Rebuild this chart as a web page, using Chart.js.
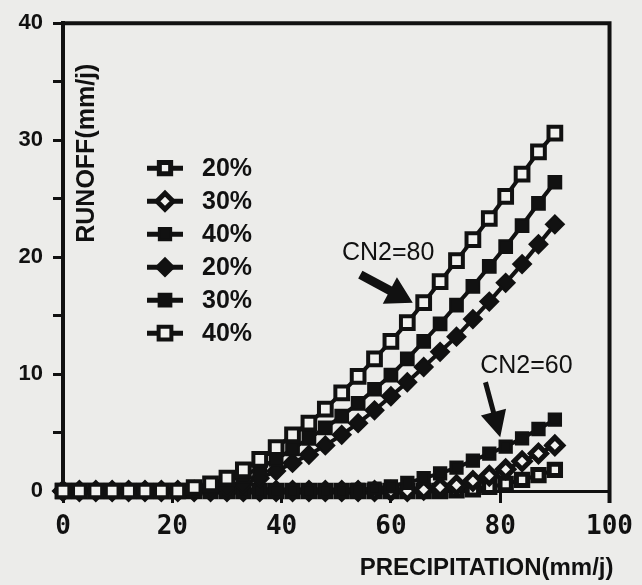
<!DOCTYPE html>
<html>
<head>
<meta charset="utf-8">
<script src="https://cdn.jsdelivr.net/npm/chart.js@4.4.1/dist/chart.umd.min.js"></script>
<style>
    html, body { margin: 0; padding: 0; background: #ececea; }
    canvas { display: block; }
</style>
</head>
<body>
<canvas id="runoff_chart" width="642" height="585"></canvas>
<script>
// precipitation (mm/j) at each plotted point
const precipitation = [0, 3, 6, 9, 12, 15, 18, 21, 24, 27, 30, 33, 36, 39, 42, 45, 48, 51, 54, 57, 60, 63, 66, 69, 72, 75, 78, 81, 84, 87, 90]

// runoff (mm/j), CN2=60
const cn60_20 = [0, 0, 0, 0, 0, 0, 0, 0, 0, 0, 0, 0, 0, 0, 0, 0, 0, 0, 0, 0, 0, 0, 0, 0, 0.05, 0.15, 0.35, 0.6, 0.95, 1.35, 1.8]
const cn60_30 = [0, 0, 0, 0, 0, 0, 0, 0, 0, 0, 0, 0, 0, 0, 0, 0, 0, 0, 0, 0, 0, 0, 0.1, 0.3, 0.5, 0.85, 1.3, 1.85, 2.55, 3.2, 3.9]
const cn60_40 = [0, 0, 0, 0, 0, 0, 0, 0, 0, 0, 0, 0, 0, 0, 0, 0, 0, 0, 0.1, 0.2, 0.4, 0.7, 1.1, 1.5, 2.0, 2.6, 3.2, 3.8, 4.5, 5.3, 6.1]

// runoff (mm/j), CN2=80
const cn80_20 = [0, 0, 0, 0, 0, 0, 0, 0, 0, 0.1, 0.3, 0.6, 1.1, 1.7, 2.4, 3.1, 3.9, 4.8, 5.8, 6.9, 8.1, 9.3, 10.6, 11.9, 13.2, 14.7, 16.2, 17.8, 19.4, 21.1, 22.8]
const cn80_30 = [0, 0, 0, 0, 0, 0, 0, 0, 0.1, 0.4, 0.8, 1.3, 2.0, 2.7, 3.6, 4.5, 5.4, 6.4, 7.5, 8.7, 9.9, 11.3, 12.8, 14.3, 15.9, 17.5, 19.2, 20.9, 22.7, 24.6, 26.4]
const cn80_40 = [0, 0, 0, 0, 0, 0, 0, 0, 0.3, 0.6, 1.1, 1.8, 2.7, 3.7, 4.8, 5.8, 7.0, 8.4, 9.8, 11.3, 12.8, 14.4, 16.1, 17.9, 19.7, 21.5, 23.3, 25.2, 27.1, 29.0, 30.6]

const series_labels = ["20%", "30%", "40%", "20%", "30%", "40%"]

const INK = "#111111"
const PAPER = "#f1f1ef"
const BACKGROUND = "#ececea"

function toPoints(values) {
    return values.map((v, i) => ({ "x": precipitation[i], "y": v }))
}

function makeDataset(label, values, point_style, radius, fill, border, order) {
    return {
        "label": label,
        "data": toPoints(values),
        "borderColor": INK,
        "borderWidth": 4,
        "pointStyle": point_style,
        "pointRadius": radius,
        "pointBackgroundColor": fill,
        "pointBorderColor": INK,
        "pointBorderWidth": border,
        "tension": 0,
        "clip": false,
        "order": order
    }
}

let datasets = [
    makeDataset(series_labels[0], cn60_20, "rect", 8, PAPER, 5, 6),
    makeDataset(series_labels[1], cn60_30, "rectRot", 8, PAPER, 5, 5),
    makeDataset(series_labels[2], cn60_40, "rect", 8, INK, 3, 4),
    makeDataset(series_labels[3], cn80_20, "rectRot", 9, INK, 2, 3),
    makeDataset(series_labels[4], cn80_30, "rect", 9, INK, 2, 2),
    makeDataset(series_labels[5], cn80_40, "rect", 9, PAPER, 4, 1)
]

function drawArrow(ctx, x1, y1, x2, y2, shaft, head_len, head_w) {
    let ang = Math.atan2(y2 - y1, x2 - x1)
    let len = Math.hypot(x2 - x1, y2 - y1)
    ctx.save()
    ctx.translate(x1, y1)
    ctx.rotate(ang)
    ctx.beginPath()
    ctx.moveTo(0, -shaft / 2)
    ctx.lineTo(len - head_len, -shaft / 2)
    ctx.lineTo(len - head_len, -head_w / 2)
    ctx.lineTo(len, 0)
    ctx.lineTo(len - head_len, head_w / 2)
    ctx.lineTo(len - head_len, shaft / 2)
    ctx.lineTo(0, shaft / 2)
    ctx.closePath()
    ctx.fillStyle = INK
    ctx.fill()
    ctx.restore()
}

const paperPlugin = {
    id: "paper",
    beforeDraw(chart) {
        let ctx = chart.ctx
        ctx.save()
        ctx.fillStyle = BACKGROUND
        ctx.fillRect(0, 0, chart.width, chart.height)
        ctx.restore()
    }
}

const decorPlugin = {
    id: "decor",
    afterDraw(chart) {
        let ctx = chart.ctx
        let area = chart.chartArea
        let xs = chart.scales.x
        let ys = chart.scales.y
        ctx.save()

        // frame: top and right side
        ctx.strokeStyle = INK
        ctx.lineWidth = 4
        ctx.beginPath()
        ctx.moveTo(area.left - 2, area.top)
        ctx.lineTo(area.right, area.top)
        ctx.lineTo(area.right, area.bottom + 12)
        ctx.stroke()

        // axis titles
        ctx.fillStyle = INK
        ctx.font = "bold 25px 'Liberation Sans', Arial, sans-serif"
        ctx.save()
        ctx.translate(area.left + 24, area.top + 130)
        ctx.rotate(-Math.PI / 2)
        ctx.textAlign = "center"
        ctx.textBaseline = "middle"
        ctx.fillText("RUNOFF(mm/j)", 0, 0)
        ctx.restore()

        ctx.font = "bold 24px 'Liberation Sans', Arial, sans-serif"
        ctx.textAlign = "right"
        ctx.textBaseline = "alphabetic"
        ctx.fillText("PRECIPITATION(mm/j)", area.right + 4, chart.height - 10)

        // annotations
        ctx.font = "25px 'Liberation Sans', Arial, sans-serif"
        ctx.textAlign = "center"
        ctx.textBaseline = "middle"
        ctx.fillText("CN2=80", xs.getPixelForValue(59.5), ys.getPixelForValue(20.3))
        ctx.fillText("CN2=60", xs.getPixelForValue(84.8), ys.getPixelForValue(10.7))
        drawArrow(ctx, xs.getPixelForValue(54.4), ys.getPixelForValue(18.5),
            xs.getPixelForValue(64.0), ys.getPixelForValue(16.1), 9, 26, 30)
        drawArrow(ctx, xs.getPixelForValue(77.3), ys.getPixelForValue(9.3),
            xs.getPixelForValue(80.0), ys.getPixelForValue(4.6), 5, 26, 26)

        // legend inside the plot
        chart.data.datasets.forEach((ds, i) => {
            let y = area.top + 145 + i * 33
            let x = area.left + 102
            ctx.strokeStyle = INK
            ctx.lineWidth = 5
            ctx.beginPath()
            ctx.moveTo(x - 18, y)
            ctx.lineTo(x + 18, y)
            ctx.stroke()
            ctx.fillStyle = ds.pointBackgroundColor
            ctx.strokeStyle = INK
            ctx.lineWidth = ds.pointBorderWidth
            Chart.helpers.drawPoint(ctx, {
                "pointStyle": ds.pointStyle,
                "radius": ds.pointRadius,
                "borderWidth": ds.pointBorderWidth,
                "rotation": 0
            }, x, y)
            ctx.fillStyle = INK
            ctx.font = "bold 25px 'Liberation Sans', Arial, sans-serif"
            ctx.textAlign = "left"
            ctx.textBaseline = "middle"
            ctx.fillText(ds.label, x + 37, y + 1)
        })
        ctx.restore()
    }
}

new Chart(document.getElementById("runoff_chart").getContext("2d"), {
    "type": "line",
    "data": { "datasets": datasets },
    "options": {
        "responsive": false,
        "animation": false,
        "layout": { "padding": { "top": 20, "right": 29, "bottom": 0, "left": 0 } },
        "plugins": {
            "legend": { "display": false },
            "tooltip": { "enabled": false }
        },
        "scales": {
            "x": {
                "type": "linear",
                "min": 0,
                "max": 100,
                "afterFit": (scale) => { scale.height = 94 },
                "border": { "color": INK, "width": 3 },
                "grid": { "drawOnChartArea": false, "drawTicks": true, "tickLength": 12, "color": INK, "lineWidth": 3 },
                "ticks": {
                    "stepSize": 20,
                    "padding": 9,
                    "color": INK,
                    "font": { "family": "'DejaVu Sans Mono', monospace", "size": 26, "weight": "bold" }
                }
            },
            "y": {
                "min": 0,
                "max": 40,
                "afterFit": (scale) => { scale.width = 63 },
                "border": { "color": INK, "width": 4 },
                "grid": { "drawOnChartArea": false, "drawTicks": true, "tickLength": 10, "color": INK, "lineWidth": 3 },
                "ticks": {
                    "stepSize": 5,
                    "padding": 10,
                    "color": INK,
                    "font": { "family": "'Liberation Sans', Arial, sans-serif", "size": 22, "weight": "bold" },
                    "callback": (value) => value % 10 === 0 ? value : ""
                }
            }
        }
    },
    "plugins": [paperPlugin, decorPlugin]
})
</script>
</body>
</html>
